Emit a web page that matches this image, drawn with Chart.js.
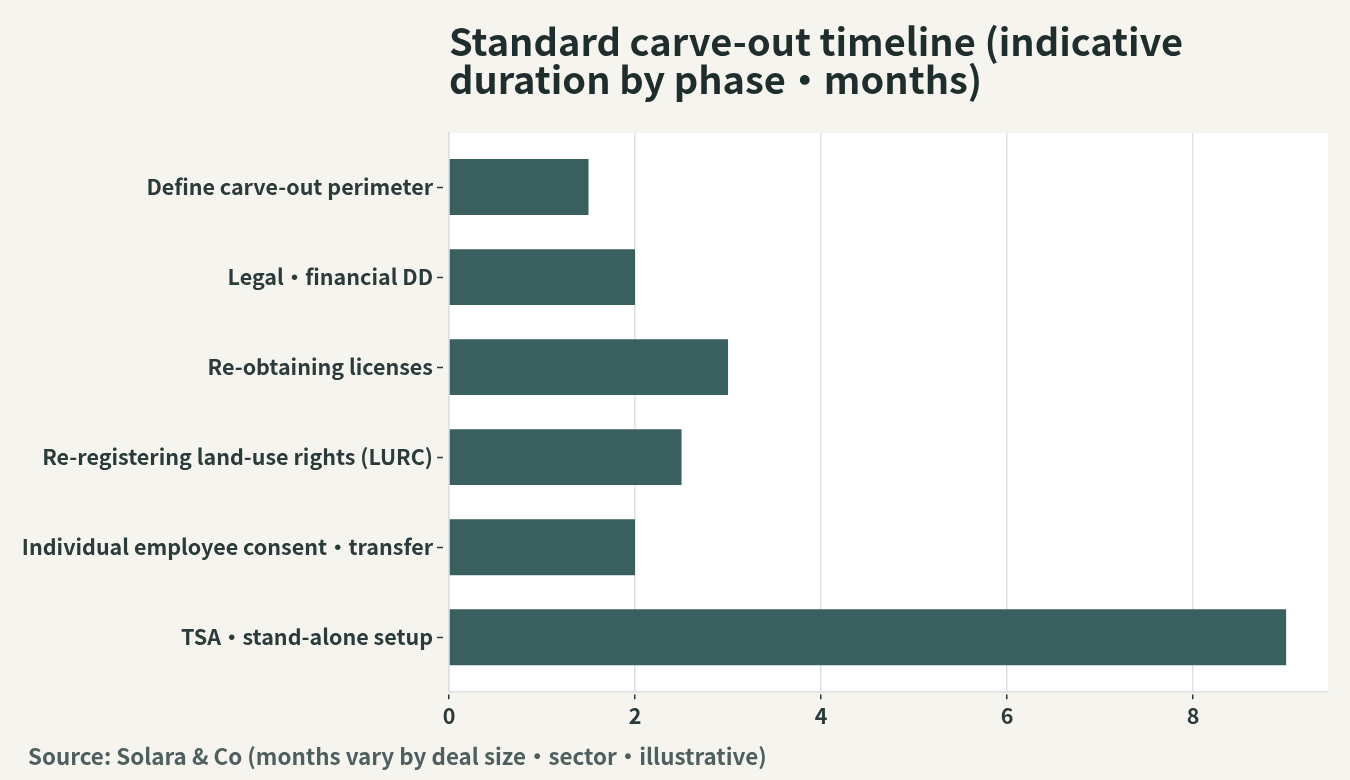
<!DOCTYPE html>
<html>
<head>
<meta charset="utf-8">
<script src="https://cdn.jsdelivr.net/npm/chart.js@4"></script>
<style>
  html, body { margin: 0; padding: 0; background: #f5f4ef; }
  #wrap { width: 1350px; height: 780px; position: relative; }
</style>
</head>
<body>
<div id="wrap"><canvas id="c"></canvas></div>
<script>
const categories = [
  'Define carve-out perimeter',
  'Legal・financial DD',
  'Re-obtaining licenses',
  'Re-registering land-use rights (LURC)',
  'Individual employee consent・transfer',
  'TSA・stand-alone setup'
];
const months = [1.5, 2, 3, 2.5, 2, 9];
const xTicks = [0, 2, 4, 6, 8];
const titleLines = ['Standard carve-out timeline (indicative', 'duration by phase・months)'];
const sourceText = 'Source: Solara & Co (months vary by deal size・sector・illustrative)';

const FONT = "'Noto Sans CJK JP', 'Noto Sans', sans-serif";

const plotBg = {
  id: 'plotBg',
  afterLayout(chart) {
    chart.boxes.forEach(b => {
      if (b.options && b.options.text === sourceText) {
        b.left = 28;
      }
    });
  },
  beforeDraw(chart) {
    const {ctx, chartArea: a} = chart;
    ctx.save();
    ctx.fillStyle = '#ffffff';
    ctx.fillRect(a.left, a.top, a.right - a.left, a.bottom - a.top);
    ctx.restore();
  }
};

new Chart(document.getElementById('c'), {
  type: 'bar',
  data: {
    labels: categories,
    datasets: [{
      data: months,
      backgroundColor: '#3a5f5f',
      borderWidth: 0,
      barPercentage: 1,
      categoryPercentage: 0.62
    }]
  },
  options: {
    indexAxis: 'y',
    responsive: true,
    maintainAspectRatio: false,
    animation: false,
    layout: { padding: { left: 14, right: 22, top: 23, bottom: 10 } },
    plugins: {
      legend: { display: false },
      tooltip: { enabled: false },
      title: {
        display: true,
        text: titleLines,
        align: 'start',
        fullSize: false,
        color: '#1f2d2d',
        font: { family: FONT, size: 38, weight: 'bold', lineHeight: 1.0 },
        padding: { top: 0, bottom: 34 }
      },
      subtitle: {
        display: true,
        text: sourceText,
        position: 'bottom',
        align: 'start',
        fullSize: true,
        color: '#4f5f5f',
        font: { family: FONT, size: 22.4, weight: 'bold', lineHeight: 1.2 },
        padding: { top: 10, bottom: 0 }
      }
    },
    scales: {
      x: {
        type: 'linear',
        min: 0,
        max: 9.45,
        afterBuildTicks: (scale) => { scale.ticks = xTicks.map(v => ({ value: v })); },
        grid: {
          color: '#dde1e1',
          lineWidth: 1.5,
          drawTicks: true,
          tickLength: 8,
          tickColor: '#2b3a3a',
          tickWidth: 1.5,
          tickBorderDash: [0, 2, 6, 100]
        },
        border: { display: true, color: '#dde1e1', width: 1.5 },
        ticks: {
          color: '#2b3a3a',
          font: { family: FONT, size: 21.5, weight: 'bold' },
          padding: 4
        }
      },
      y: {
        type: 'category',
        afterBuildTicks: (scale) => { scale._startValue = -0.6; scale._valueRange = 6.2; },
        afterFit: (scale) => { scale.width = 449 - 14; },
        grid: {
          offset: false,
          drawOnChartArea: false,
          drawTicks: true,
          tickLength: 12,
          tickColor: '#2b3a3a',
          tickWidth: 1.5,
          tickBorderDash: [6, 100]
        },
        border: { display: true, color: '#dde1e1', width: 1.5 },
        ticks: {
          color: '#2b3a3a',
          font: { family: FONT, size: 21.5, weight: 'bold' },
          padding: 4
        }
      }
    }
  },
  plugins: [plotBg]
});
</script>
</body>
</html>
